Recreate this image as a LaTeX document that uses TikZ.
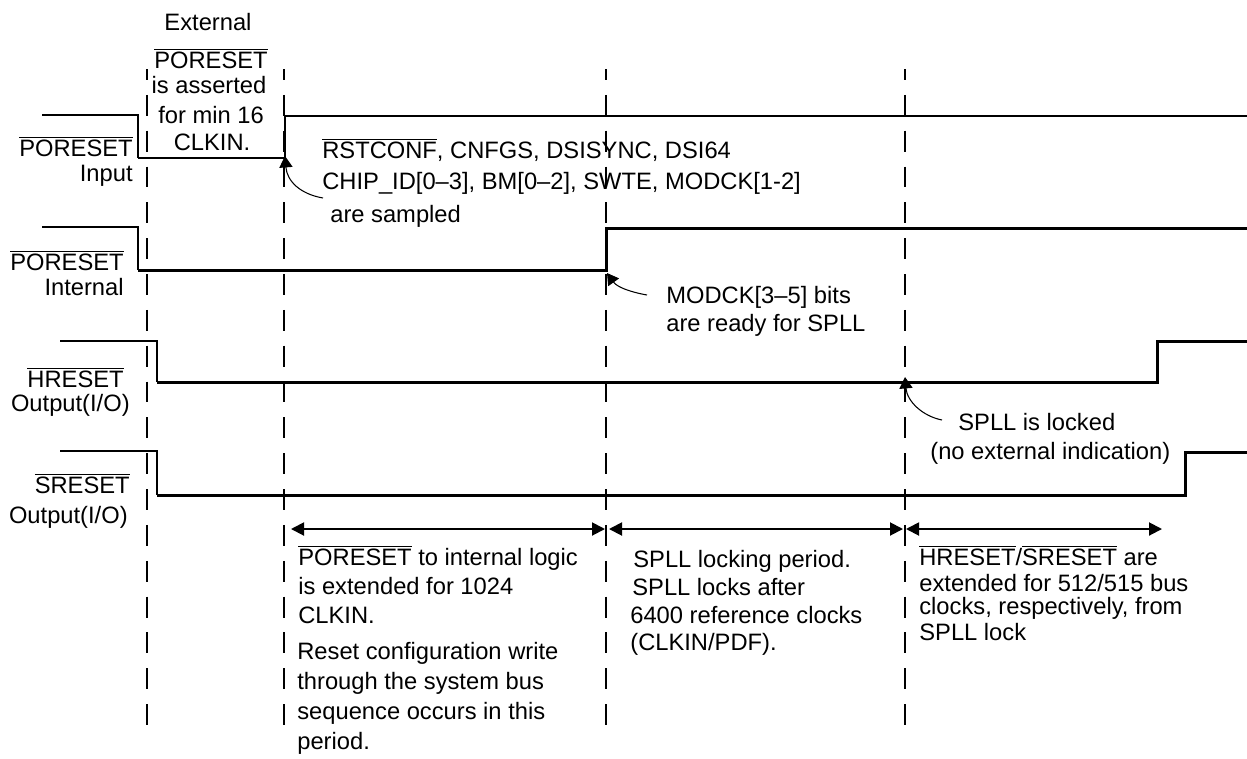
\documentclass[tikz,border=0pt]{standalone}
\usepackage{fontspec}
\setmainfont{Liberation Sans}
\usepackage{tikz}
\usetikzlibrary{arrows.meta}

\newcommand{\ovl}[1]{$\overline{\mbox{#1}}$}

\begin{document}
\begin{tikzpicture}[
x=0.02cm, y=-0.02cm,
label text/.style = {inner sep=0pt, font=\fontsize{13.5pt}{16pt}\selectfont},
left label/.style = {label text, anchor=base east},
line text/.style = {label text, anchor=base west},
mid text/.style = {label text, anchor=base},
level thin/.style = {line width=1.1pt},
level thick/.style = {line width=1.7pt},
time mark/.style = {line width=1.1pt, dash pattern=on 11.9pt off 8.5pt, dash phase=5.7pt},
period/.style = {line width=1.1pt, {Triangle[length=7.4pt,width=7.4pt]}-{Triangle[length=7.4pt,width=7.4pt]}},
pointer/.style = {line width=0.6pt, -{Triangle[length=6.5pt,width=7.5pt]}}
]

\useasboundingbox (0,0) rectangle (1247,758);

% time marks
\draw[time mark] (147,69) -- (147,737);
\draw[time mark] (284,69) -- (284,737);
\draw[time mark] (606,69) -- (606,737);
\draw[time mark] (905,69) -- (905,737);

% PORESET input
\draw[level thin] (42,115) -- (138,115) -- (138,158);
\draw[level thick] (138,158) -- (285,158) -- (285,116) -- (1247,116);

% PORESET internal
\draw[level thin] (42,227) -- (138,227) -- (138,270);
\draw[level thick] (138,270) -- (606,270) -- (606,228) -- (1247,228);

% HRESET
\draw[level thin] (60,341) -- (157,341) -- (157,382);
\draw[level thick] (157,382) -- (1157,382) -- (1157,341) -- (1247,341);

% SRESET
\draw[level thin] (60,451) -- (157,451) -- (157,495);
\draw[level thick] (157,495) -- (1185,495) -- (1185,452) -- (1247,452);

% signal names
\node (inLbl)  at (133,156) [left label] {\ovl{PORESET}};
\node (inSub)  at (133,181) [left label] {Input};
\node (intLbl) at (124,270) [left label] {\ovl{PORESET}};
\node (intSub) at (124,295) [left label] {Internal};
\node (hrLbl)  at (124,387) [left label] {\ovl{HRESET}};
\node (hrSub)  at (130,411) [left label] {Output(I/O)};
\node (srLbl)  at (130,493) [left label] {\ovl{SRESET}};
\node (srSub)  at (128,523) [left label] {Output(I/O)};

% external assertion note
\node (ext)  at (208,30)  [mid text] {External};
\node (extP) at (211,68)  [mid text] {\ovl{PORESET}};
\node (extA) at (209,93)  [mid text] {is asserted};
\node (extM) at (211,123) [mid text] {for min 16};
\node (extC) at (212,150) [mid text] {CLKIN.};

% sampling note
\node (smp1) at (322,158) [line text] {\ovl{RSTCONF}, CNFGS, DSISYNC, DSI64};
\node (smp2) at (322,189) [line text] {CHIP\_ID[0--3], BM[0--2], SWTE, MODCK[1-2]};
\node (smp3) at (330,222) [line text] {are sampled};
\coordinate (smpTail) at (323,198);
\coordinate (smpTip)  at (285,156);
\draw[pointer] (smpTail) .. controls (300,194) and (287,181) .. (smpTip);

% MODCK note
\node (mod1) at (666,303) [line text] {MODCK[3--5] bits};
\node (mod2) at (666,331) [line text] {are ready for SPLL};
\coordinate (modTail) at (647,295);
\coordinate (modTip)  at (607,273);
\draw[pointer] (modTail) .. controls (630,292) and (617,287) .. (modTip);

% lock note
\node (lck1) at (958,430) [line text] {SPLL is locked};
\node (lck2) at (930,459) [line text] {(no external indication)};
\coordinate (lckTail) at (942,420);
\coordinate (lckTip)  at (905,377);
\draw[pointer] (lckTail) .. controls (922,416) and (907,401) .. (lckTip);

% periods
\coordinate (p0) at (291,529);
\coordinate (p1) at (605,529);
\coordinate (p2) at (609,529);
\coordinate (p3) at (903,529);
\coordinate (p4) at (906,529);
\coordinate (p5) at (1162,529);
\draw[period] (p0) -- (p1);
\draw[period] (p2) -- (p3);
\draw[period] (p4) -- (p5);

\node (por1) at (298,565) [line text] {\ovl{PORESET} to internal logic};
\node (por2) at (298,594) [line text] {is extended for 1024};
\node (por3) at (298,623) [line text] {CLKIN.};
\node (por4) at (297,659) [line text] {Reset configuration write};
\node (por5) at (297,689) [line text] {through the system bus};
\node (por6) at (297,719) [line text] {sequence occurs in this};
\node (por7) at (297,749) [line text] {period.};

\node (pll1) at (633,567) [line text] {SPLL locking period.};
\node (pll2) at (632,595) [line text] {SPLL locks after};
\node (pll3) at (630,623) [line text] {6400 reference clocks};
\node (pll4) at (630,650) [line text] {(CLKIN/PDF).};

\node (hs1) at (919,565) [line text] {\ovl{HRESET}/\ovl{SRESET} are};
\node (hs2) at (919,591) [line text] {extended for 512/515 bus};
\node (hs3) at (919,614) [line text] {clocks, respectively, from};
\node (hs4) at (919,640) [line text] {SPLL lock};
\end{tikzpicture}
\end{document}
